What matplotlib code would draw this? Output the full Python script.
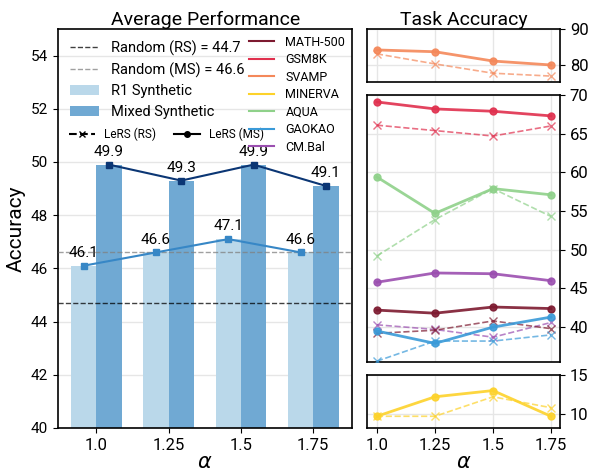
import matplotlib.pyplot as plt
import numpy as np
from matplotlib.lines import Line2D

plt.rcParams["font.family"] = ["Roboto", "DejaVu Sans"]
plt.rcParams["mathtext.fontset"] = "dejavusans"

alphas = ["1.0", "1.25", "1.5", "1.75"]
r1_synthetic = [46.1, 46.6, 47.1, 46.6]
mixed_synthetic = [49.9, 49.3, 49.9, 49.1]
random_rs = 44.7
random_ms = 46.6

tasks = ["MATH-500", "GSM8K", "SVAMP", "MINERVA", "AQUA", "GAOKAO", "CM.Bal"]
task_colors = ["#7d1a30", "#e0304e", "#f4885a", "#fdd22a", "#8fd18a", "#3a9ad8", "#9b4fb0"]
# LeRS (MS) solid, LeRS (RS) dashed
task_ms = {
    "MATH-500": [42.2, 41.8, 42.6, 42.4],
    "GSM8K": [69.1, 68.2, 67.9, 67.3],
    "SVAMP": [84.2, 83.7, 81.1, 80.0],
    "MINERVA": [9.7, 12.2, 13.0, 9.7],
    "AQUA": [59.4, 54.7, 57.9, 57.1],
    "GAOKAO": [39.5, 37.9, 40.0, 41.3],
    "CM.Bal": [45.8, 47.0, 46.9, 46.0],
}
task_rs = {
    "MATH-500": [39.2, 39.6, 40.8, 39.8],
    "GSM8K": [66.1, 65.4, 64.7, 66.0],
    "SVAMP": [83.1, 80.3, 77.7, 76.9],
    "MINERVA": [9.7, 9.7, 12.2, 10.8],
    "AQUA": [49.2, 53.9, 57.9, 54.3],
    "GAOKAO": [35.6, 38.2, 38.2, 39.0],
    "CM.Bal": [40.3, 39.7, 38.7, 40.6],
}

LIGHT = "#bad8ea"
DARK = "#70a9d3"
RS_LINE = "#3787c6"
MS_LINE = "#0b3674"

fig = plt.figure(figsize=(5.92, 4.75), dpi=100)
ax = fig.add_axes([0.098, 0.099, 0.497, 0.84])

x = np.arange(len(alphas))
w = 0.35
ax.bar(x - w / 2, r1_synthetic, w, color=LIGHT, label="R1 Synthetic", zorder=2)
ax.bar(x + w / 2, mixed_synthetic, w, color=DARK, label="Mixed Synthetic", zorder=2)
ax.plot(x - w / 2, r1_synthetic, "s-", color=RS_LINE, ms=5, lw=1.5, zorder=4)
ax.plot(x + w / 2, mixed_synthetic, "s-", color=MS_LINE, ms=5, lw=1.5, zorder=4)
for xi, v in zip(x - w / 2, r1_synthetic):
    ax.text(xi, v + 0.22, f"{v:.1f}", ha="center", va="bottom", fontsize=11, zorder=5)
for xi, v in zip(x + w / 2, mixed_synthetic):
    ax.text(xi, v + 0.22, f"{v:.1f}", ha="center", va="bottom", fontsize=11, zorder=5)

ax.axhline(random_rs, color="black", ls="--", lw=1, alpha=0.75, zorder=3,
           label=f"Random (RS) = {random_rs}")
ax.axhline(random_ms, color="gray", ls="--", lw=1, alpha=0.75, zorder=3,
           label=f"Random (MS) = {random_ms}")

ax.set_xlim(-0.53, 3.54)
ax.set_ylim(40, 55)
ax.set_yticks([40, 42, 44, 46, 48, 50, 52, 54])
ax.set_xticks(x, alphas, fontsize=12)
ax.tick_params(axis="y", labelsize=11)
ax.yaxis.grid(True, color="#e6e6e6", lw=1, zorder=0)
ax.set_axisbelow(True)
ax.set_ylabel("Accuracy", fontsize=15)
ax.set_xlabel(r"$\alpha$", fontsize=15, labelpad=0)
ax.set_title("Average Performance", fontsize=14, pad=3)

handles, labels = ax.get_legend_handles_labels()
leg1 = ax.legend(handles, labels, loc="upper left", bbox_to_anchor=(0.0, 1.0),
                 frameon=False, fontsize=10.5, handlelength=2.0, labelspacing=0.45,
                 borderaxespad=0.4)
ax.add_artist(leg1)

lers_handles = [
    Line2D([], [], color="black", ls="--", marker="x", ms=4, lw=1.5),
    Line2D([], [], color="black", ls="-", marker="o", ms=4, lw=1.5),
]
leg2 = ax.legend(lers_handles, ["LeRS (RS)", "LeRS (MS)"], loc="upper left",
                 bbox_to_anchor=(0.0, 0.78), ncol=2, frameon=False, fontsize=8.5,
                 handlelength=2.2, columnspacing=1.5)
ax.add_artist(leg2)

task_handles = [Line2D([], [], color=c, lw=1.5) for c in task_colors]
ax.legend(task_handles, tasks, loc="upper right", bbox_to_anchor=(1.0, 1.0),
          frameon=False, fontsize=9, handlelength=2.0, labelspacing=0.36,
          borderaxespad=0.15, handletextpad=0.9)

# Task accuracy panels
panels = [
    ([0.62, 0.827, 0.326, 0.1116], ["SVAMP"], (75.2, 90), [80, 90]),
    ([0.62, 0.238, 0.326, 0.562], ["GSM8K", "AQUA", "CM.Bal", "MATH-500", "GAOKAO"], (35.5, 70),
     [40, 45, 50, 55, 60, 65, 70]),
    ([0.62, 0.099, 0.326, 0.1116], ["MINERVA"], (8.2, 15), [10, 15]),
]
color_of = dict(zip(tasks, task_colors))
for i, (rect, names, ylim, yticks) in enumerate(panels):
    tax = fig.add_axes(rect)
    for name in names:
        c = color_of[name]
        tax.plot(x, task_rs[name], "x--", color=c, ms=6, lw=1.2, alpha=0.7, zorder=3)
        tax.plot(x, task_ms[name], "o-", color=c, ms=5, lw=2, alpha=0.9, zorder=4)
    tax.set_xlim(-0.17, 3.155)
    tax.set_ylim(*ylim)
    tax.set_yticks(yticks)
    tax.yaxis.tick_right()
    tax.tick_params(axis="y", labelsize=12)
    tax.set_xticks(x)
    tax.grid(True, color="#e6e6e6", lw=1, zorder=0)
    tax.set_axisbelow(True)
    for s in tax.spines.values():
        s.set_linewidth(1.2)
    if i == 2:
        tax.set_xticklabels(alphas, fontsize=12)
        tax.set_xlabel(r"$\alpha$", fontsize=15, labelpad=0)
    else:
        tax.set_xticklabels([])
        tax.tick_params(axis="x", length=0)
    if i == 0:
        tax.set_title("Task Accuracy", fontsize=14, pad=3)

for s in ax.spines.values():
    s.set_linewidth(1.2)

fig.savefig("out.png", dpi=100)
